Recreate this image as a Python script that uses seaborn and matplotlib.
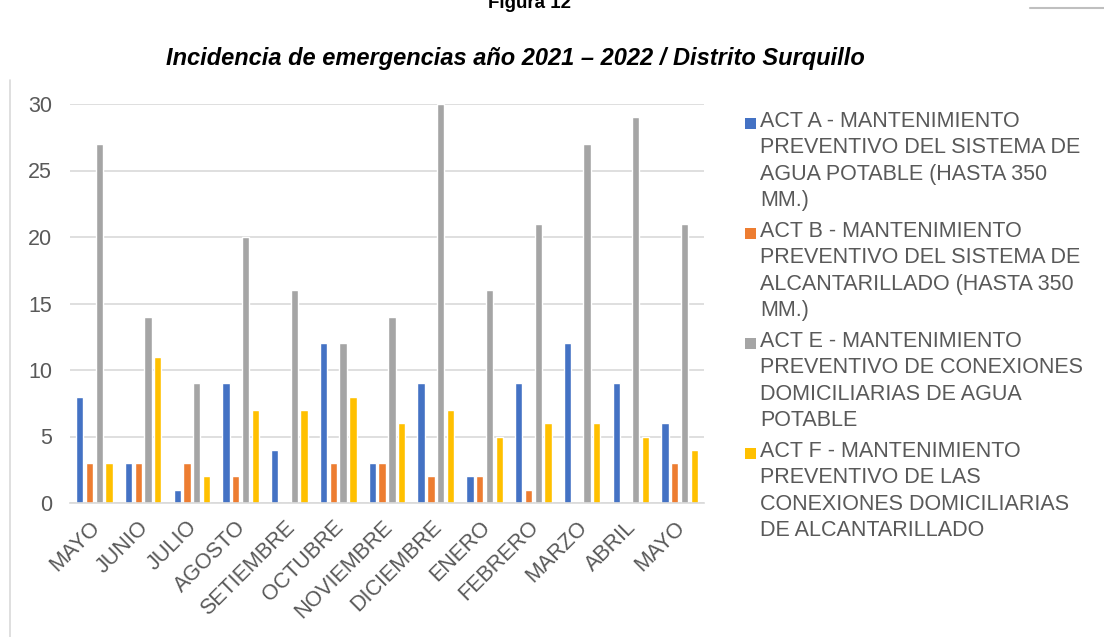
import pandas as pd
import numpy as np
import matplotlib.pyplot as plt
import matplotlib.transforms as mtransforms
import seaborn as sns
from matplotlib.lines import Line2D
from matplotlib.patches import Rectangle

# Data
months = ['MAYO', 'JUNIO', 'JULIO', 'AGOSTO', 'SETIEMBRE', 'OCTUBRE', 'NOVIEMBRE',
          'DICIEMBRE', 'ENERO', 'FEBRERO', 'MARZO', 'ABRIL', 'MAYO']
act_a = [8, 3, 1, 9, 4, 12, 3, 9, 2, 9, 12, 9, 6]
act_b = [3, 3, 3, 2, 0, 3, 3, 2, 2, 1, 0, 0, 3]
act_e = [27, 14, 9, 20, 16, 12, 14, 30, 16, 21, 27, 29, 21]
act_f = [3, 11, 2, 7, 7, 8, 6, 7, 5, 6, 6, 5, 4]

series = ['ACT A - MANTENIMIENTO\nPREVENTIVO DEL SISTEMA DE\nAGUA POTABLE (HASTA 350\nMM.)',
          'ACT B - MANTENIMIENTO\nPREVENTIVO DEL SISTEMA DE\nALCANTARILLADO (HASTA 350\nMM.)',
          'ACT E - MANTENIMIENTO\nPREVENTIVO DE CONEXIONES\nDOMICILIARIAS DE AGUA\nPOTABLE',
          'ACT F - MANTENIMIENTO\nPREVENTIVO DE LAS\nCONEXIONES DOMICILIARIAS\nDE ALCANTARILLADO']
colors = ['#4472C4', '#ED7D31', '#A5A5A5', '#FFC000']

# build long table; month keys made unique because MAYO repeats
keys = [f'{m}_{i}' for i, m in enumerate(months)]
rows = []
for name, vals in zip(series, [act_a, act_b, act_e, act_f]):
    for k, v in zip(keys, vals):
        rows.append({'mes': k, 'serie': name, 'valor': v})
df = pd.DataFrame(rows)

sns.set_theme(style='white')
plt.rcParams['font.family'] = ['Liberation Sans', 'DejaVu Sans']

W, H = 1104, 637
fig = plt.figure(figsize=(W / 100, H / 100), dpi=100)
ax = fig.add_axes([70 / W, 1 - 503 / H, 634 / W, 399 / H])

sns.barplot(data=df, x='mes', y='valor', hue='serie', order=keys, hue_order=series,
            palette=colors, width=0.8, gap=0.25, saturation=1, legend=False, ax=ax)

ax.set_ylim(0, 30)
ax.set_xlim(-0.5, len(months) - 0.5)
ax.set_yticks(range(0, 31, 5))
ax.yaxis.grid(True, color='#D9D9D9', linewidth=1.2)
ax.set_axisbelow(True)
for s in ['top', 'right', 'left']:
    ax.spines[s].set_visible(False)
ax.spines['bottom'].set_color('#D9D9D9')
ax.spines['bottom'].set_linewidth(1.2)
ax.set_xlabel('')
ax.set_ylabel('')
ax.set_xticks(range(len(months)))
ax.set_xticklabels(months, rotation=45, ha='right', rotation_mode='anchor')
ax.tick_params(axis='both', colors='#595959', labelsize=15.5, length=0)
ax.tick_params(axis='y', pad=13)
ax.tick_params(axis='x', pad=10)

# nudge the rotated month labels a little to the left
shift = mtransforms.ScaledTranslation(-5 / 100, 0, fig.dpi_scale_trans)
for lbl in ax.get_xticklabels():
    lbl.set_transform(lbl.get_transform() + shift)

# legend drawn by hand so the swatch sits on the first text line
legend_tops = [111, 221, 331, 441]
for name, c, top in zip(series, colors, legend_tops):
    fig.add_artist(Rectangle((745 / W, 1 - 129 / H - (top - 111) / H), 11 / W, 11 / H,
                             facecolor=c, edgecolor='none', transform=fig.transFigure))
    fig.text(760 / W, 1 - top / H, name, ha='left', va='top', fontsize=15.5,
             color='#595959', linespacing=1.33)

fig.text(530 / W, 1 - 3 / H, 'Figura 12', ha='center', va='center', fontsize=13.5,
         fontweight='bold', color='black')
fig.text(515 / W, 1 - 59 / H, 'Incidencia de emergencias año 2021 – 2022 / Distrito Surquillo',
         ha='center', va='center', fontsize=17, fontweight='bold', fontstyle='italic',
         color='black')

# chart frame remnants
fig.add_artist(Line2D([10 / W, 10 / W], [0, 1 - 80 / H], color='#D9D9D9', linewidth=1.2))
fig.add_artist(Line2D([1030 / W, 1], [1 - 8 / H, 1 - 8 / H], color='#BFBFBF', linewidth=1.5))

fig.savefig('out.png', dpi=100)
